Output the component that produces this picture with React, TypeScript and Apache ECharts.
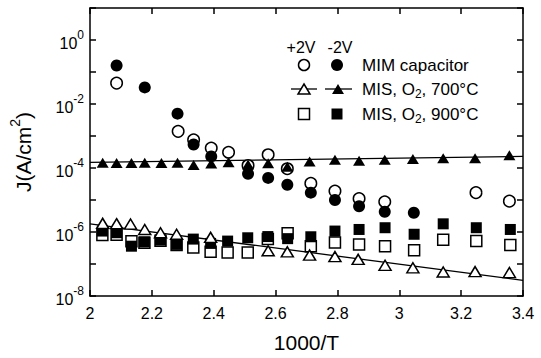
import React, { useEffect, useRef } from "react";
import * as echarts from "echarts";

const FONT = "'Liberation Sans', Arial, Helvetica, sans-serif";

// x values (1000/T) and current densities J (A/cm^2)
const mimPlusX = [2.086, 2.285, 2.335, 2.392, 2.448, 2.511, 2.576, 2.638, 2.714, 2.792, 2.87, 2.953, 3.248, 3.356];
const mimPlusJ = [4.5e-2, 1.4e-3, 7.6e-4, 4.2e-4, 3.1e-4, 1.2e-4, 2.6e-4, 9.5e-5, 3.3e-5, 1.9e-5, 1.1e-5, 8.8e-6, 1.7e-5, 9.2e-6];

const mimMinusX = [2.086, 2.177, 2.283, 2.335, 2.392, 2.511, 2.576, 2.638, 2.714, 2.792, 2.87, 2.953, 3.047];
const mimMinusJ = [1.6e-1, 3.3e-2, 5e-3, 5.4e-4, 2.3e-4, 6.6e-5, 4.9e-5, 3e-5, 1.7e-5, 1.0e-5, 6.4e-6, 4.3e-6, 4e-6];

const mis700MinusX = [2.041, 2.086, 2.134, 2.177, 2.231, 2.283, 2.335, 2.392, 2.448, 2.511, 2.576, 2.638, 2.71, 2.792, 2.87, 2.953, 3.044, 3.142, 3.245, 3.356];
const mis700MinusJ = [1.45e-4, 1.44e-4, 1.43e-4, 1.45e-4, 1.44e-4, 1.46e-4, 1.25e-4, 1.37e-4, 1.5e-4, 1.28e-4, 1.4e-4, 1.1e-4, 1.6e-4, 1.8e-4, 1.7e-4, 1.8e-4, 1.9e-4, 2.0e-4, 2.0e-4, 2.5e-4];

const mis700PlusX = [2.041, 2.086, 2.131, 2.177, 2.228, 2.28, 2.39, 2.576, 2.638, 2.71, 2.792, 2.867, 2.954, 3.044, 3.142, 3.245, 3.356];
const mis700PlusJ = [1.86e-6, 1.82e-6, 1.77e-6, 1.2e-6, 9.5e-7, 8.5e-7, 6.8e-7, 2.6e-7, 2.4e-7, 1.9e-7, 1.7e-7, 1.4e-7, 9.1e-8, 7.6e-8, 5.6e-8, 5.8e-8, 5.4e-8];

const fit700MinusX = [2, 3.4];
const fit700MinusJ = [1.5e-4, 2.3e-4];
const fit700PlusX = [2, 3.4];
const fit700PlusJ = [1.8e-6, 3.1e-8];

const mis900X = [2.04, 2.086, 2.134, 2.176, 2.228, 2.28, 2.334, 2.39, 2.445, 2.51, 2.575, 2.639, 2.714, 2.792, 2.87, 2.954, 3.048, 3.142, 3.249, 3.359];
const mis900MinusJ = [1.07e-6, 9.5e-7, 3.6e-7, 4.9e-7, 5.6e-7, 4.1e-7, 6e-7, 4.4e-7, 5.2e-7, 6.6e-7, 7.2e-7, 6.2e-7, 7.1e-7, 1.07e-6, 1.2e-6, 1.36e-6, 8.5e-7, 1.8e-6, 1.36e-6, 1.2e-6];
const mis900PlusJ = [8e-7, 8.2e-7, 5.1e-7, 4.6e-7, 5.3e-7, 3.9e-7, 3.3e-7, 2.4e-7, 2.3e-7, 2.3e-7, 6e-7, 9.2e-7, 3.6e-7, 4.7e-7, 4.1e-7, 3.6e-7, 2.7e-7, 5.7e-7, 5.2e-7, 3.9e-7];

const xTicks = { min: 2, max: 3.4, interval: 0.2 };
const yRange = { min: 1e-8, max: 10 };

const legendHeader = ["+2V", "-2V"];
const legendLabels = [
  "MIM capacitor",
  "MIS, O{sub|2}, 700°C",
  "MIS, O{sub|2}, 900°C",
];

const pairs = (xs: number[], ys: number[]) => xs.map((x, i) => [x, ys[i]]);

const openStyle = { color: "#fff", borderColor: "#000", borderWidth: 1.5, opacity: 1 };
const fillStyle = { color: "#000", borderColor: "#000", borderWidth: 0, opacity: 1 };

export default function App() {
  const ref = useRef<HTMLDivElement>(null);
  useEffect(() => {
    if (!ref.current) return;
    const chart = echarts.init(ref.current, null, { renderer: "svg" });

    const axisLine = { show: true, lineStyle: { color: "#000", width: 1.5 } };
    const axisTick = { show: true, inside: true, length: 6, lineStyle: { color: "#000", width: 1.5 } };

    const textBase = { fontFamily: FONT, color: "#000" };
    const legendX1 = 304;
    const legendX2 = 337;
    const rowY = [65, 89, 114];

    const graphic: any[] = [
      { type: "text", x: 301, y: 47, style: { ...textBase, text: legendHeader[0], fontSize: 16, align: "center", verticalAlign: "middle" } },
      { type: "text", x: 340, y: 47, style: { ...textBase, text: legendHeader[1], fontSize: 16, align: "center", verticalAlign: "middle" } },
      { type: "circle", shape: { cx: legendX1, cy: rowY[0], r: 5.5 }, style: { fill: "#fff", stroke: "#000", lineWidth: 1.5 } },
      { type: "circle", shape: { cx: legendX2, cy: rowY[0], r: 6 }, style: { fill: "#000" } },
      { type: "line", shape: { x1: 291, y1: rowY[1], x2: 317, y2: rowY[1] }, style: { stroke: "#000", lineWidth: 1.3 } },
      { type: "polygon", shape: { points: [[legendX1, rowY[1] - 5], [legendX1 + 6, rowY[1] + 5], [legendX1 - 6, rowY[1] + 5]] }, style: { fill: "#fff", stroke: "#000", lineWidth: 1.5 } },
      { type: "line", shape: { x1: 325, y1: rowY[1], x2: 352, y2: rowY[1] }, style: { stroke: "#000", lineWidth: 1.3 } },
      { type: "polygon", shape: { points: [[legendX2 + 1, rowY[1] - 5], [legendX2 + 7, rowY[1] + 5], [legendX2 - 5, rowY[1] + 5]] }, style: { fill: "#000" } },
      { type: "rect", shape: { x: legendX1 - 5.5, y: rowY[2] - 5.5, width: 11, height: 11 }, style: { fill: "#fff", stroke: "#000", lineWidth: 1.5 } },
      { type: "rect", shape: { x: legendX2 - 5.5, y: rowY[2] - 5.5, width: 11, height: 11 }, style: { fill: "#000" } },
    ];
    legendLabels.forEach((t, i) => {
      graphic.push({
        type: "text",
        x: 362,
        y: rowY[i],
        style: {
          text: `{b|${t.replace(/\{sub\|2\}/g, "}{sub|2}{b|")}}`,
          verticalAlign: "middle",
          align: "left",
          rich: {
            b: { ...textBase, fontSize: 17, lineHeight: 22 },
            sub: { ...textBase, fontSize: 12, lineHeight: 12, verticalAlign: "bottom" },
          },
        },
      });
    });

    const option: any = {
      animation: false,
      backgroundColor: "#fff",
      grid: { left: 90, right: 18, top: 8, bottom: 61, containLabel: false },
      xAxis: [
        {
          type: "value",
          ...xTicks,
          position: "bottom",
          axisLine,
          axisTick,
          splitLine: { show: false },
          axisLabel: {
            ...textBase,
            fontSize: 16,
            margin: 9,
            formatter: (v: number) => String(Math.round(v * 10) / 10),
          },
          name: "1000/T",
          nameLocation: "middle",
          nameGap: 36,
          nameTextStyle: { ...textBase, fontSize: 21 },
        },
        {
          type: "value",
          ...xTicks,
          position: "top",
          axisLine,
          axisTick,
          splitLine: { show: false },
          axisLabel: { show: false },
        },
      ],
      yAxis: [
        {
          type: "log",
          logBase: 10,
          ...yRange,
          position: "left",
          axisLine,
          axisTick,
          splitLine: { show: false },
          minorTick: { show: false },
          axisLabel: {
            margin: 6,
            formatter: (v: number) => {
              const e = Math.round(Math.log10(v));
              if (e % 2 !== 0) return "";
              return `{b|10}{s|${e}}`;
            },
            rich: {
              b: { ...textBase, fontSize: 16, lineHeight: 22, verticalAlign: "bottom" },
              s: { ...textBase, fontSize: 12, lineHeight: 12, verticalAlign: "top" },
            },
          },
          name: "{b|J(A/cm}{s|2}{b|)}",
          nameLocation: "middle",
          nameGap: 56,
          nameRotate: 90,
          nameTextStyle: {
            rich: {
              b: { ...textBase, fontSize: 21, lineHeight: 26, verticalAlign: "bottom" },
              s: { ...textBase, fontSize: 14, lineHeight: 14, verticalAlign: "top" },
            },
          },
        },
        {
          type: "log",
          logBase: 10,
          ...yRange,
          position: "right",
          axisLine,
          axisTick,
          splitLine: { show: false },
          minorTick: { show: false },
          axisLabel: { show: false },
        },
      ],
      series: [
        {
          type: "line",
          data: pairs(fit700MinusX, fit700MinusJ),
          showSymbol: false,
          symbol: "none",
          lineStyle: { color: "#000", width: 1.3 },
          z: 1,
        },
        {
          type: "line",
          data: pairs(fit700PlusX, fit700PlusJ),
          showSymbol: false,
          symbol: "none",
          lineStyle: { color: "#000", width: 1.3 },
          z: 1,
        },
        { type: "scatter", data: pairs(mis900X, mis900PlusJ), symbol: "rect", symbolSize: 11, itemStyle: openStyle, z: 2 },
        { type: "scatter", data: pairs(mis900X, mis900MinusJ), symbol: "rect", symbolSize: 11, itemStyle: fillStyle, z: 3 },
        { type: "scatter", data: pairs(mimPlusX, mimPlusJ), symbol: "circle", symbolSize: 11.5, itemStyle: openStyle, z: 4 },
        { type: "scatter", data: pairs(mimMinusX, mimMinusJ), symbol: "circle", symbolSize: 12, itemStyle: fillStyle, z: 5 },
        { type: "scatter", data: pairs(mis700PlusX, mis700PlusJ), symbol: "triangle", symbolSize: [12, 10], itemStyle: openStyle, z: 6 },
        { type: "scatter", data: pairs(mis700MinusX, mis700MinusJ), symbol: "triangle", symbolSize: [12, 10], itemStyle: fillStyle, z: 7 },
      ],
      graphic,
    };
    chart.setOption(option);
    return () => chart.dispose();
  }, []);
  return <div ref={ref} style={{ width: 541, height: 358, position: "absolute", left: 0, top: 0 }} />;
}
